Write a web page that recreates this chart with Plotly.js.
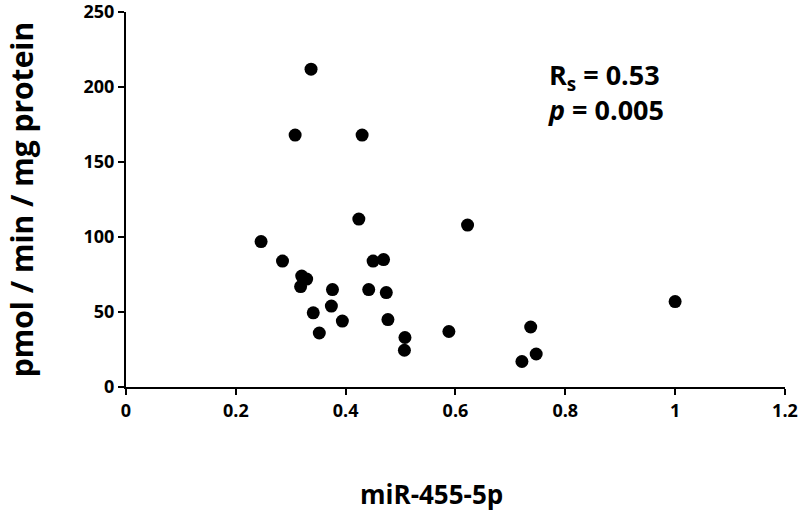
<!DOCTYPE html>
<html>
<head>
<meta charset="utf-8">
<script src="https://cdn.plot.ly/plotly-3.0.1.min.js"></script>
<style>html,body{margin:0;padding:0;background:#fff}#chart{width:800px;height:514px}</style>
</head>
<body>
<div id="chart"></div>
<script>
var mirValues = [0.337, 0.308, 0.430, 0.424, 0.622, 0.246, 0.285, 0.450, 0.469, 0.320, 0.329, 0.318, 0.376, 0.442, 0.474, 0.374, 0.341, 0.394, 0.477, 0.352, 0.508, 0.588, 0.507, 1.000, 0.737, 0.747, 0.721];
var activityValues = [212, 168, 168, 112, 108, 97, 84, 84, 85, 74, 72, 67, 65, 65, 63, 54, 49.5, 44, 45, 36, 33, 37, 24.5, 57, 40, 22, 17];
var xTicks = [0, 0.2, 0.4, 0.6, 0.8, 1, 1.2];
var xTickText = ['0', '0.2', '0.4', '0.6', '0.8', '1', '1.2'];
var yTicks = [0, 50, 100, 150, 200, 250];
var yTickText = ['0', '50', '100', '150', '200', '250'];
var xTitle = 'miR-455-5p';
var yTitle = 'pmol / min / mg protein';
var statLines = ['R<sub>s</sub> = 0.53', '<i>p</i> = 0.005'];

var fontFam = '"Open Sans", sans-serif';
function bold(a) { return a.map(function (s) { return '<b>' + s + '</b>'; }); }
var trace = {
  x: mirValues, y: activityValues, type: 'scatter', mode: 'markers',
  marker: {color: '#000', size: 13},
  cliponaxis: false, showlegend: false
};
var tickFont = {size: 18, family: fontFam, weight: 'bold', color: '#000'};
var layout = {
  width: 800, height: 514,
  margin: {l: 126, r: 15, t: 12, b: 127},
  paper_bgcolor: '#fff', plot_bgcolor: '#fff',
  font: {family: fontFam, color: '#000'},
  xaxis: {
    range: [0, 1.2001], tickvals: xTicks, ticktext: bold(xTickText),
    showgrid: false, zeroline: false, showline: true, linewidth: 2, linecolor: '#000',
    ticks: 'outside', ticklen: 6, tickwidth: 2, tickcolor: '#000',
    tickfont: tickFont, ticklabeloverflow: 'allow'
  },
  yaxis: {
    range: [0, 250.1], tickvals: yTicks, ticktext: bold(yTickText),
    showgrid: false, zeroline: false, showline: true, linewidth: 2, linecolor: '#000',
    ticks: 'outside', ticklen: 6, tickwidth: 2, tickcolor: '#000',
    tickfont: tickFont, ticklabeloverflow: 'allow',
    title: {text: '<b>' + yTitle + '</b>', font: {size: 30, family: fontFam}, standoff: 41}
  },
  annotations: [
    {x: 0.464, y: -0.286, xref: 'paper', yref: 'paper', text: '<b>' + xTitle + '</b>', showarrow: false, xanchor: 'center', yanchor: 'middle', font: {size: 26, family: fontFam}},
    {x: 0.637, y: 0.787, xref: 'paper', yref: 'paper', text: '<b>' + statLines.join('<br>') + '</b>', showarrow: false, align: 'left', xanchor: 'left', yanchor: 'middle', font: {size: 27, family: fontFam}}
  ]
};
Plotly.newPlot('chart', [trace], layout, {displayModeBar: false, staticPlot: true});
</script>
</body>
</html>
